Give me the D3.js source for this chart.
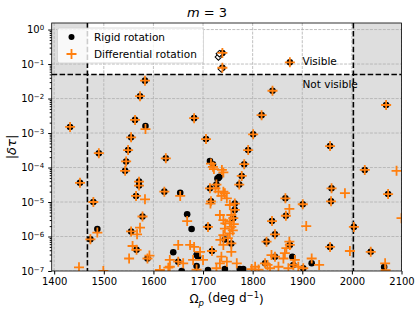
<!DOCTYPE html>
<html>
<head>
<meta charset="utf-8">
<script src="https://cdn.jsdelivr.net/npm/d3@7"></script>
<style>
  body { margin: 0; background: #fff; }
  svg { display: block; font-family: "DejaVu Sans", sans-serif; }
</style>
</head>
<body>
<div id="chart"></div>
<script>
// --- data (m = 3) ---
// modes where rigid and differential rotation land on the same spot
const bothOmega = [1583, 1573, 1563, 1432, 1555, 1549, 1490, 1545, 1543, 1625, 1452, 1571, 1571, 1622, 1565, 1479,
  1578, 1555, 1473, 1566, 1588, 1739, 1739, 1840, 1875, 1818, 1682, 1801, 1706, 1791, 1783, 1778, 1773, 2069, 1956,
  2026, 1959, 1958, 2073, 1866, 1901, 1867, 2004, 1956, 2038, 1839, 1845, 1828, 1716, 1764, 1764, 1761, 1757, 1710,
  1718, 1650, 1714, 1825, 1845, 1875, 1882, 1902, 1727];
const bothTau = [0.033, 0.0117, 2.4e-3, 1.5e-3, 7.5e-4, 3.2e-4, 2.6e-4, 1.5e-4, 8e-5, 1.85e-4, 3.6e-5, 3.9e-5, 3.0e-5,
  2.0e-5, 1.5e-5, 1.0e-5, 3.8e-6, 1.4e-6, 8.3e-7, 4.1e-7, 2.3e-7, 0.21, 0.078, 0.0168, 0.112, 3.3e-3, 2.7e-3, 9.2e-4,
  6.7e-4, 3.2e-4, 1.25e-4, 5.7e-5, 3.2e-5, 6.5e-3, 4.2e-4, 8.5e-5, 2.5e-5, 1.05e-5, 1.7e-5, 1.28e-5, 8.6e-6, 4.0e-6,
  1.9e-6, 5.0e-7, 3.6e-7, 2.8e-6, 1.16e-6, 7.1e-7, 1.05e-5, 9e-6, 5.9e-6, 3.4e-6, 6.3e-7, 1.9e-6, 3.8e-7, 1.86e-7,
  2.5e-5, 1.67e-7, 2.6e-7, 5.7e-7, 1.5e-7, 1.2e-7, 3.2e-5];

// rigid rotation only
const rigidOmega = [1584, 1487, 1640, 1714, 1720, 1731, 1733, 1729, 1654, 1668, 1677, 1687, 1690, 1687, 1657, 1710,
  1744, 1744, 1774, 1781, 1880, 1919, 2065];
const rigidTau = [1.6e-3, 1.65e-6, 3.5e-7, 1.55e-4, 1.25e-4, 5e-5, 5.4e-5, 4.8e-5, 1.85e-5, 4.4e-6, 1.65e-6, 2.9e-7,
  2.6e-7, 1.4e-7, 1.0e-7, 1.07e-7, 8.2e-7, 1.14e-7, 1.14e-7, 1.14e-7, 2.6e-7, 1.67e-7, 1.3e-7];

// differential rotation only
const diffOmega = [1584, 1487, 1583, 1573, 1567, 1558, 1551, 1592, 1450, 1499, 1613, 1630, 1633, 1660, 1633, 1654,
  1668, 1674, 1682, 1650, 1694, 1700, 1680, 1687, 1727, 1716, 1720, 1722, 1738, 1741, 1725, 1731, 1741, 1737, 1748,
  1744, 1754, 1757, 1734, 1754, 1741, 1757, 1744, 1754, 1741, 1741, 1757, 1737, 1734, 1748, 1768, 1805, 1798, 1838,
  1852, 1835, 1874, 1908, 1986, 2090, 1996, 2067, 2068, 1919, 1934, 1874, 1868, 1865, 1862, 1885, 1892, 1872, 1715,
  2100, 1745, 1760, 1735, 1750, 1762, 1830, 1812];
const diffTau = [1.3e-3, 1.3e-6, 1.2e-5, 1.8e-6, 1.16e-6, 5.3e-7, 2.3e-7, 2.8e-7, 1.28e-7, 1.0e-7, 1.07e-7, 1.25e-7,
  2.1e-7, 1.67e-7, 1.33e-7, 1.5e-5, 2.8e-6, 5.7e-7, 5.0e-7, 5.7e-7, 3.6e-7, 2.1e-7, 2.1e-7, 1.1e-7, 1.2e-7, 1.3e-4,
  1.05e-4, 9e-5, 8.5e-5, 7.2e-5, 2.5e-5, 2.0e-5, 2.0e-5, 1.5e-5, 1.28e-5, 1.8e-5, 8.2e-6, 4.2e-6, 4.2e-6, 2.7e-6,
  3.0e-6, 1.9e-6, 1.7e-6, 1.23e-6, 1.1e-6, 5.7e-7, 3.6e-7, 2.6e-7, 1.67e-7, 1.86e-7, 1.67e-7, 1.33e-7, 1.14e-7,
  2.9e-7, 1.33e-7, 1.2e-7, 6.3e-6, 2.0e-6, 1.8e-5, 8e-5, 3.8e-7, 1.67e-7, 1.05e-7, 2.3e-7, 1.5e-7, 7.1e-7, 4.6e-7,
  3.3e-7, 2.3e-7, 2.1e-7, 1.33e-7, 1.2e-7, 9e-6,
  3.4e-6, 2.4e-6, 1.5e-6, 8e-7, 9e-7, 2.3e-6, 1.5e-7, 1.1e-7];

// open diamonds near the top
const diamondOmega = [1731, 1733, 1737];
const diamondTau = [0.16, 0.2, 0.072];

// visibility limits
const visOmegaMin = 1467;
const visOmegaMax = 2003;
const visTau = 0.05;

const omegaTicks = [1400, 1500, 1600, 1700, 1800, 1900, 2000, 2100];
const tauExponents = [0, -1, -2, -3, -4, -5, -6, -7];

// --- layout ---
const width = 415, height = 311;
const pLeft = 51.7, pRight = 401.5, pTop = 23, pBottom = 271;
const orange = "#ff7f0e";

const svg = d3.select("#chart").append("svg")
  .attr("width", width)
  .attr("height", height);

const x = d3.scaleLinear().domain([1395, 2100]).range([pLeft, pRight]);
const y = d3.scaleLog().domain([1e-7, Math.pow(10, 0.19)]).range([pBottom, pTop]);

svg.append("defs").append("clipPath").attr("id", "plotclip")
  .append("rect").attr("x", pLeft).attr("y", pTop)
  .attr("width", pRight - pLeft).attr("height", pBottom - pTop);

const plot = svg.append("g").attr("clip-path", "url(#plotclip)");

// background: white visible window, grey elsewhere
plot.append("rect")
  .attr("x", pLeft).attr("y", pTop)
  .attr("width", pRight - pLeft).attr("height", pBottom - pTop)
  .attr("fill", "#dedede");
plot.append("rect")
  .attr("x", x(visOmegaMin)).attr("y", pTop)
  .attr("width", x(visOmegaMax) - x(visOmegaMin))
  .attr("height", y(visTau) - pTop)
  .attr("fill", "#fff");

// grid
plot.append("g").selectAll("line").data(omegaTicks).join("line")
  .attr("x1", d => x(d)).attr("x2", d => x(d))
  .attr("y1", pTop).attr("y2", pBottom)
  .attr("stroke", "#b0b0b0").attr("stroke-width", 0.8)
  .attr("stroke-dasharray", "3,1.3");
plot.append("g").selectAll("line").data(tauExponents).join("line")
  .attr("x1", pLeft).attr("x2", pRight)
  .attr("y1", d => y(Math.pow(10, d))).attr("y2", d => y(Math.pow(10, d)))
  .attr("stroke", "#b0b0b0").attr("stroke-width", 0.8)
  .attr("stroke-dasharray", "3,1.3");

// visibility boundaries
function dashed(line) {
  line.attr("stroke", "#000").attr("stroke-width", 1.6).attr("stroke-dasharray", "5.5,2.4");
}
plot.append("line")
  .attr("x1", x(visOmegaMin)).attr("x2", x(visOmegaMin))
  .attr("y1", pTop).attr("y2", pBottom).call(dashed);
plot.append("line")
  .attr("x1", x(visOmegaMax)).attr("x2", x(visOmegaMax))
  .attr("y1", pTop).attr("y2", pBottom).call(dashed);
plot.append("line")
  .attr("x1", pLeft).attr("x2", pRight)
  .attr("y1", y(visTau)).attr("y2", y(visTau)).call(dashed);

// points
const rigid = bothOmega.map((o, i) => ({ o, t: bothTau[i] }))
  .concat(rigidOmega.map((o, i) => ({ o, t: rigidTau[i] })));
const diff = bothOmega.map((o, i) => ({ o, t: bothTau[i] }))
  .concat(diffOmega.map((o, i) => ({ o, t: diffTau[i] })));
const diamonds = diamondOmega.map((o, i) => ({ o, t: diamondTau[i] }));

plot.append("g").selectAll("circle").data(rigid).join("circle")
  .attr("cx", d => x(d.o)).attr("cy", d => y(d.t))
  .attr("r", 3.3).attr("fill", "#000");

plot.append("g").selectAll("path").data(diamonds).join("path")
  .attr("transform", d => `translate(${x(d.o)},${y(d.t)}) rotate(45)`)
  .attr("d", d3.symbol(d3.symbolSquare, 22)())
  .attr("fill", "#fff").attr("stroke", "#000").attr("stroke-width", 1);

const plus = "M-5,0H5M0,-5V5";
plot.append("g").selectAll("path").data(diff).join("path")
  .attr("transform", d => `translate(${x(d.o)},${y(d.t)})`)
  .attr("d", plus)
  .attr("fill", "none").attr("stroke", orange).attr("stroke-width", 1.8);

// region labels
svg.append("text").attr("x", 302.5).attr("y", 64.5)
  .attr("font-size", "10.5px").text("Visible");
svg.append("text").attr("x", 302.5).attr("y", 87.5)
  .attr("font-size", "10.5px").text("Not visible");

// axes
const xAxis = svg.append("g")
  .attr("transform", `translate(0,${pBottom})`)
  .call(d3.axisBottom(x).tickValues(omegaTicks).tickFormat(d3.format("d"))
    .tickSize(3.5).tickPadding(3).tickSizeOuter(0));
xAxis.select(".domain").remove();
xAxis.selectAll("text").attr("font-size", "10px").attr("font-family", "DejaVu Sans").attr("fill", "#000");

const minor = [];
for (let e = -7; e <= 0; e++) {
  for (let k = 2; k <= 9; k++) {
    const v = k * Math.pow(10, e);
    if (v <= Math.pow(10, 0.19)) minor.push(v);
  }
}
const yMinor = svg.append("g")
  .attr("transform", `translate(${pLeft},0)`)
  .call(d3.axisLeft(y).tickValues(minor).tickSize(2).tickFormat(""));
yMinor.select(".domain").remove();

const yAxis = svg.append("g")
  .attr("transform", `translate(${pLeft},0)`)
  .call(d3.axisLeft(y).tickValues(tauExponents.map(e => Math.pow(10, e))).tickSize(3.5).tickPadding(4).tickSizeOuter(0));
yAxis.select(".domain").remove();
yAxis.selectAll("text")
  .attr("font-size", "10px").attr("font-family", "DejaVu Sans").attr("fill", "#000")
  .text(null)
  .each(function (d) {
    const t = d3.select(this);
    const e = Math.round(Math.log10(d));
    t.append("tspan").text("10");
    t.append("tspan").attr("dy", "-0.45em").attr("font-size", "7px")
      .text(e < 0 ? "\u2212" + (-e) : String(e));
  });

// spines
svg.append("rect")
  .attr("x", pLeft).attr("y", pTop)
  .attr("width", pRight - pLeft).attr("height", pBottom - pTop)
  .attr("fill", "none").attr("stroke", "#000").attr("stroke-width", 0.8);

// legend
const legend = svg.append("g").attr("transform", "translate(57.5,28)");
legend.append("rect")
  .attr("width", 146).attr("height", 35).attr("rx", 2)
  .attr("fill", "#fff").attr("fill-opacity", 0.8)
  .attr("stroke", "#d0d0d0").attr("stroke-width", 0.8);
legend.append("circle").attr("cx", 14).attr("cy", 9).attr("r", 3).attr("fill", "#000");
legend.append("path").attr("transform", "translate(14,26)").attr("d", plus)
  .attr("stroke", orange).attr("stroke-width", 1.8);
legend.append("text").attr("x", 36.5).attr("y", 12.8).attr("font-size", "10.5px").text("Rigid rotation");
legend.append("text").attr("x", 36.5).attr("y", 29.6).attr("font-size", "10.5px").text("Differential rotation");

// title and axis labels
const title = svg.append("text").attr("x", 207).attr("y", 17)
  .attr("text-anchor", "middle").attr("font-size", "13px");
title.append("tspan").attr("font-style", "italic").text("m");
title.append("tspan").text(" = 3");

const xl = svg.append("text").attr("x", (pLeft + pRight) / 2).attr("y", 303)
  .attr("text-anchor", "middle").attr("font-size", "12px");
xl.append("tspan").text("\u03a9");
xl.append("tspan").attr("font-style", "italic").attr("font-size", "8.5px").attr("dy", "0.3em").text("p");
xl.append("tspan").attr("dy", "-0.3em").text(" (deg d");
xl.append("tspan").attr("font-size", "8.5px").attr("dy", "-0.5em").text("\u22121");
xl.append("tspan").attr("dy", "0.5em").text(")");

const yl = svg.append("text")
  .attr("transform", `translate(16,${(pTop + pBottom) / 2}) rotate(-90)`)
  .attr("text-anchor", "middle").attr("font-size", "13px");
yl.append("tspan").text("|");
yl.append("tspan").attr("font-style", "italic").text("\u03b4\u03c4");
yl.append("tspan").text("|");
</script>
</body>
</html>
